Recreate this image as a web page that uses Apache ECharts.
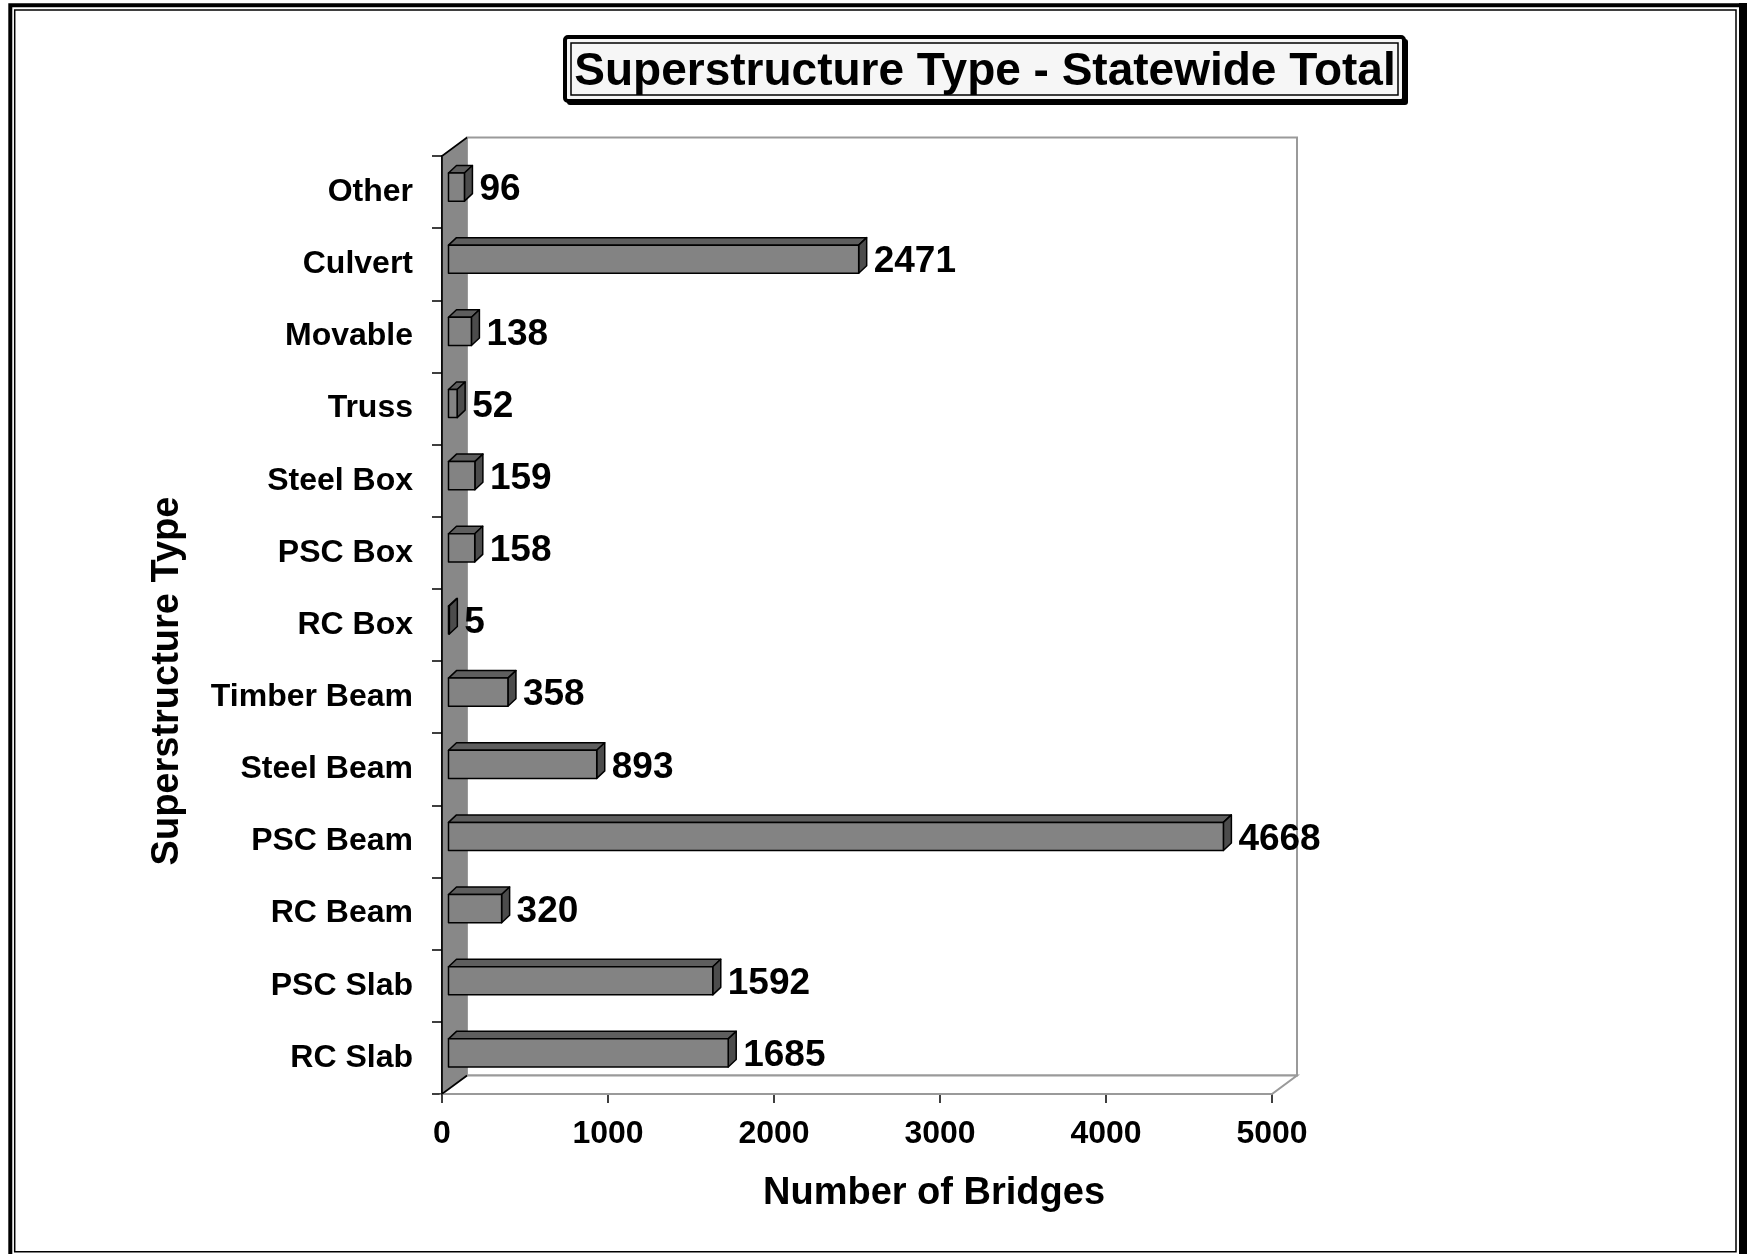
<!DOCTYPE html>
<html>
<head>
<meta charset="utf-8">
<title>Superstructure Type - Statewide Total</title>
<script src="https://cdn.jsdelivr.net/npm/echarts@6/dist/echarts.min.js"></script>
<style>
  html, body { margin: 0; padding: 0; background: #ffffff; }
  #chart { width: 1750px; height: 1254px; }
</style>
</head>
<body>
<div id="chart"></div>
<script>
// Bridge counts by superstructure type (listed bottom to top)
const categories = ['RC Slab', 'PSC Slab', 'RC Beam', 'PSC Beam', 'Steel Beam', 'Timber Beam',
  'RC Box', 'PSC Box', 'Steel Box', 'Truss', 'Movable', 'Culvert', 'Other'];
const bridgeCounts = [1685, 1592, 320, 4668, 893, 358, 5, 158, 159, 52, 138, 2471, 96];

// Value axis range and tick step
const axisMin = 0;
const axisMax = 5000;
const axisStep = 1000;

const titleText = 'Superstructure Type - Statewide Total';
const xAxisTitle = 'Number of Bridges';
const yAxisTitle = 'Superstructure Type';

// Pseudo-3D geometry (pixels)
const WALL_DEPTH = [25, -18.5];   // offset from front plane to back wall
const BAR_FRONT = [6.5, -5];      // bar front face sits a little behind the front plane
const BAR_DEPTH = [8, -7.5];      // extrusion of each bar
const BAR_RATIO = 0.39;           // bar thickness relative to category band

const FONT = '"Liberation Sans", Arial, Helvetica, sans-serif';

const chart = echarts.init(document.getElementById('chart'), null, { renderer: 'canvas' });

// Floor, back wall and left wall of the 3D box
function renderWalls(params, api) {
  const cs = params.coordSys;
  const x = cs.x, y = cs.y, w = cs.width, h = cs.height;
  const dx = WALL_DEPTH[0], dy = WALL_DEPTH[1];
  return {
    type: 'group',
    children: [
      {
        type: 'rect',
        shape: { x: x + dx, y: y + dy, width: w, height: h },
        style: { fill: '#ffffff', stroke: '#9a9a9a', lineWidth: 2 }
      },
      {
        type: 'polygon',
        shape: { points: [[x, y + h], [x + w, y + h], [x + w + dx, y + h + dy], [x + dx, y + h + dy]] },
        style: { fill: '#ffffff', stroke: '#9a9a9a', lineWidth: 2 }
      },
      {
        type: 'polygon',
        shape: { points: [[x, y], [x + dx, y + dy], [x + dx, y + h + dy], [x, y + h]] },
        style: { fill: '#888888', stroke: null }
      },
      {
        type: 'polyline',
        shape: { points: [[x + dx, y + dy], [x, y], [x, y + h], [x + dx, y + h + dy]] },
        style: { fill: null, stroke: '#000000', lineWidth: 1.6 }
      }
    ]
  };
}

// Extruded horizontal bar with its value label
function renderBar(params, api) {
  const v = api.value(0);
  const c = api.value(1);
  const p0 = api.coord([0, c]);
  const p1 = api.coord([v, c]);
  const band = api.size([0, 1])[1];
  const h = band * BAR_RATIO;
  const x0 = p0[0] + BAR_FRONT[0];
  const x1 = p1[0] + BAR_FRONT[0];
  const yc = p0[1] + BAR_FRONT[1];
  const y0 = yc - h / 2;
  const y1 = yc + h / 2;
  const dx = BAR_DEPTH[0], dy = BAR_DEPTH[1];
  const edge = { stroke: '#000000', lineWidth: 1.5, lineJoin: 'round' };
  return {
    type: 'group',
    children: [
      {
        type: 'polygon',
        shape: { points: [[x0, y0], [x1, y0], [x1 + dx, y0 + dy], [x0 + dx, y0 + dy]] },
        style: Object.assign({ fill: '#5e5e5e' }, edge)
      },
      {
        type: 'polygon',
        shape: { points: [[x1, y0], [x1 + dx, y0 + dy], [x1 + dx, y1 + dy], [x1, y1]] },
        style: Object.assign({ fill: '#4c4c4c' }, edge)
      },
      {
        type: 'rect',
        shape: { x: x0, y: y0, width: x1 - x0, height: h },
        style: Object.assign({ fill: '#838383' }, edge)
      },
      {
        type: 'text',
        style: {
          text: String(v),
          x: x1 + dx + 7,
          y: yc + 3,
          font: 'bold 37px ' + FONT,
          fill: '#000000',
          align: 'left',
          verticalAlign: 'middle'
        }
      }
    ]
  };
}

const option = {
  backgroundColor: '#ffffff',
  animation: false,
  grid: { left: 442, right: 478, top: 156, bottom: 160, containLabel: false },
  xAxis: {
    type: 'value',
    min: axisMin,
    max: axisMax,
    interval: axisStep,
    axisLine: { show: true, lineStyle: { color: '#858585', width: 2 } },
    axisTick: { show: true, inside: false, length: 9, lineStyle: { color: '#000000', width: 1.5 } },
    splitLine: { show: false },
    axisLabel: {
      margin: 24, color: '#000000', fontSize: 32, fontWeight: 'bold', fontFamily: FONT,
      formatter: (val) => String(val)
    }
  },
  yAxis: {
    type: 'category',
    data: categories,
    axisLine: { show: true, lineStyle: { color: '#000000', width: 1.6 } },
    axisTick: { show: true, inside: false, length: 10, lineStyle: { color: '#000000', width: 1.5 } },
    splitLine: { show: false },
    axisLabel: {
      margin: 29, color: '#000000', fontSize: 32, fontWeight: 'bold', fontFamily: FONT,
      padding: [6, 0, 0, 0]
    }
  },
  graphic: [
    // page frame: heavy outer border with a thin inner rule
    { type: 'rect', z: 100, shape: { x: 10.3, y: 5.3, width: 1732, height: 1300 },
      style: { fill: null, stroke: '#000000', lineWidth: 4 } },
    { type: 'rect', z: 100, shape: { x: 1739, y: 3, width: 8, height: 1260 },
      style: { fill: '#000000' } },
    { type: 'rect', z: 100, shape: { x: 14.7, y: 10, width: 1721.3, height: 1241.7 },
      style: { fill: null, stroke: '#000000', lineWidth: 1.5 } },
    // title box
    { type: 'rect', z: 100, shape: { x: 567, y: 39, width: 841, height: 66, r: 3 },
      style: { fill: '#000000' } },
    { type: 'rect', z: 101, shape: { x: 565, y: 37, width: 839, height: 64, r: 3 },
      style: { fill: '#f6f6f6', stroke: '#000000', lineWidth: 4 } },
    { type: 'rect', z: 102, shape: { x: 571, y: 43, width: 827, height: 52 },
      style: { fill: null, stroke: '#000000', lineWidth: 1.5 } },
    { type: 'text', z: 103, x: 985, y: 72,
      style: { text: titleText, font: 'bold 46px ' + FONT, fill: '#000000',
               align: 'center', verticalAlign: 'middle', textAlign: 'center', textVerticalAlign: 'middle' } },
    // axis titles
    { type: 'text', z: 103, x: 934, y: 1194,
      style: { text: xAxisTitle, font: 'bold 38px ' + FONT, fill: '#000000',
               align: 'center', verticalAlign: 'middle', textAlign: 'center', textVerticalAlign: 'middle' } },
    { type: 'text', z: 103, x: 168, y: 681, rotation: Math.PI / 2,
      style: { text: yAxisTitle, font: 'bold 38px ' + FONT, fill: '#000000',
               align: 'center', verticalAlign: 'middle', textAlign: 'center', textVerticalAlign: 'middle' } }
  ],
  series: [
    {
      type: 'custom',
      name: 'walls',
      silent: true,
      z: 1,
      renderItem: renderWalls,
      data: [[axisMin, 0]]
    },
    {
      type: 'custom',
      name: 'Bridges',
      z: 3,
      renderItem: renderBar,
      encode: { x: 0, y: 1 },
      data: bridgeCounts.map((v, i) => [v, i])
    }
  ]
};

chart.setOption(option);
</script>
</body>
</html>
